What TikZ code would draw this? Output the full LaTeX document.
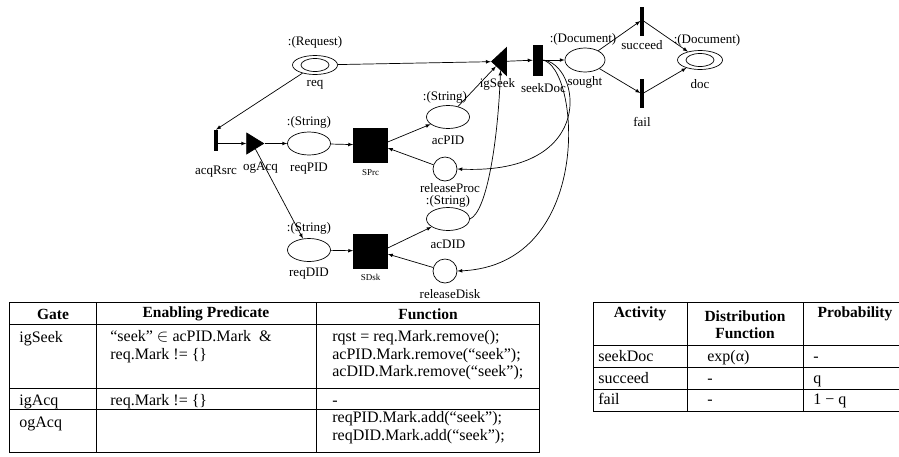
\documentclass[tikz,border=0pt]{standalone}
\usepackage{fontspec}
\setmainfont{Liberation Serif}
\usetikzlibrary{shapes.geometric}

\begin{document}
\begin{tikzpicture}[x=1pt,y=-1pt,line width=0.7pt,
    every node/.style={font=\fontsize{13}{17.5}\selectfont},
    every label/.style={inner sep=1pt},
    place/.style={draw, ellipse, inner sep=0pt, minimum width=43pt, minimum height=23pt},
    extplace/.style={place, minimum width=45pt, minimum height=19pt,
        path picture={\draw (path picture bounding box.center) ellipse (14pt and 6.5pt);}},
    token/.style={draw, circle, inner sep=0pt, minimum size=24pt},
    instbar/.style={draw, fill=black, inner sep=0pt, minimum width=2.5pt, minimum height=28pt},
    timedbar/.style={instbar, minimum width=9pt, minimum height=30pt},
    subnet/.style={draw, fill=black, inner sep=0pt, minimum size=34pt},
    outgate/.style={draw, fill=black, isosceles triangle, isosceles triangle stretches,
        inner sep=0pt, minimum width=21pt, minimum height=17pt},
    ingate/.style={outgate, shape border rotate=180, minimum width=28pt, minimum height=15pt},
    arc/.style={-latex},
    small/.style={font=\fontsize{9}{10}\selectfont},
    grid/.style={line width=1pt},
    head/.style={font=\fontsize{15.5}{17.5}\selectfont\bfseries, inner sep=0pt},
    cell/.style={anchor=north west, align=left, inner sep=0pt,
        font=\fontsize{16}{17.5}\selectfont, execute at begin node=\strut}]
    \useasboundingbox (0,0) rectangle (899,456);

    % places and activities of the net
    \node[extplace, label={[label distance=6pt]above:{:(Request)}}, label={[label distance=4pt]below:req}] (Req) at (315,65) {};
    \node[instbar, minimum height=20pt, label={[label distance=14pt]below:acqRsrc}] (AcqRsrc) at (216,140) {};
    \node[outgate, label={[label distance=10pt, xshift=8pt]below:ogAcq}] (OgAcq) at (252.5,143.5) {};
    \node[place, label={[label distance=2pt]above:{:(String)}}, label={[label distance=6pt]below:reqPID}] (ReqPID) at (309,143.5) {};
    \node[place, label={[label distance=3pt]above:{:(String)}}, label={[label distance=5pt]below:reqDID}] (ReqDID) at (309,250) {};
    \node[subnet, label={[label distance=6pt, small]below:SPrc}] (SPrc) at (370.5,145) {};
    \node[subnet, label={[label distance=5pt, small]below:SDsk}] (SDsk) at (370.5,251) {};
    \node[place, label={[label distance=0pt, xshift=-3pt]above:{:(String)}}, label={[label distance=6pt]below:acPID}] (AcPID) at (448,117) {};
    \node[token, label={[label distance=0.5pt, xshift=5pt]below:releaseProc}] (ReleaseProc) at (445,169) {};
    \node[place, label={[label distance=-1pt]above:{:(String)}}, label={[label distance=8pt]below:acDID}] (AcDID) at (448,219) {};
    \node[token, label={[label distance=5pt, xshift=5pt]below:releaseDisk}] (ReleaseDisk) at (445,271) {};
    \node[ingate, label={[label distance=7pt, xshift=-3pt]below:igSeek}] (IgSeek) at (500.5,61.5) {};
    \node[timedbar, label={[label distance=7pt, xshift=6pt]below:seekDoc}] (SeekDoc) at (537.5,60) {};
    \node[place, minimum width=40pt, minimum height=24pt, label={[label distance=1pt, xshift=-2pt]above:{:(Document)}}, label={[label distance=3pt]below:sought}] (Sought) at (585,60) {};
    \node[instbar, label={[label distance=4pt]below:succeed}] (Succeed) at (642,21) {};
    \node[instbar, label={[label distance=9pt]below:fail}] (Fail) at (642,93) {};
    \node[extplace, label={[label distance=3pt, xshift=7pt]above:{:(Document)}}, label={[label distance=8pt]below:doc}] (Doc) at (700,60) {};

    % arcs
    \draw[arc] (Req) -- (AcqRsrc.north);
    \draw[arc] (AcqRsrc.east |- OgAcq.west) -- (OgAcq.west);
    \draw[arc] (OgAcq.apex) -- (ReqPID);
    \draw[arc] (OgAcq) -- (ReqDID);
    \draw[arc] (ReqPID) -- (SPrc);
    \draw[arc] (ReqDID) -- (SDsk);
    \draw[arc] (SPrc.10) -- (AcPID);
    \draw[arc] (ReleaseProc) -- (SPrc.-10);
    \draw[arc] (SDsk.10) -- (AcDID);
    \draw[arc] (ReleaseDisk) -- (SDsk.-10);
    \draw[arc] (Req) -- (IgSeek);
    \draw[arc] (AcPID) -- (IgSeek);
    \draw[arc] (AcDID.east) .. controls (487,212) and (498,140) .. (IgSeek.south);
    \draw[arc] (IgSeek) -- (SeekDoc);
    \draw[arc] (SeekDoc) -- (Sought);
    \draw[arc] (SeekDoc.east) .. controls (580,62) and (600,175) .. (ReleaseProc.east);
    \draw[arc] (SeekDoc.east) .. controls (580,66) and (595,265) .. (ReleaseDisk.east);
    \draw[arc] (Sought) -- (Succeed.west);
    \draw[arc] (Sought) -- (Fail.west);
    \draw[arc] (Succeed.east) -- (Doc);
    \draw[arc] (Fail.east) -- (Doc);

    % gate table
    \coordinate (GateTL) at (9,302);
    \coordinate (GateBR) at (539,452);
    \draw[grid] (GateTL) rectangle (GateBR);
    \draw[grid] (96,302) -- (96,452);% Gate | Predicate
    \draw[grid] (316,302) -- (316,452);% Predicate | Function
    \draw[grid] (9,324) -- (539,324);
    \draw[grid] (9,388) -- (539,388);
    \draw[grid] (9,409) -- (539,409);
    \node[head] (GateHead) at (53,314) {Gate};
    \node[head] (PredHead) at (206,314) {Enabling Predicate};
    \node[head] (FuncHead) at (428,314) {Function};
    \node[cell] (GateSeek) at (19,330.25) {igSeek};
    \node[cell] (PredSeek) at (110,330.25) {“seek” $\in$ acPID.Mark~~\&\\req.Mark != \{\}};
    \node[cell] (FuncSeek) at (332,330.25) {rqst = req.Mark.remove();\\acPID.Mark.remove(“seek”);\\acDID.Mark.remove(“seek”);};
    \node[cell] (GateAcq) at (19,393.25) {igAcq};
    \node[cell] (PredAcq) at (110,393.25) {req.Mark != \{\}};
    \node[cell] (FuncAcq) at (332,393.25) {-};
    \node[cell] (GateOg) at (19,415.25) {ogAcq};
    \node[cell] (FuncOg) at (332,411.25) {reqPID.Mark.add(“seek”);\\reqDID.Mark.add(“seek”);};

    % activity table
    \coordinate (ActTL) at (593,302);
    \coordinate (ActBL) at (593,411);
    \draw[grid] (ActTL) -- (899,302);
    \draw[grid] (593,345) -- (899,345);
    \draw[grid] (593,367) -- (899,367);
    \draw[grid] (593,389) -- (899,389);
    \draw[grid] (ActBL) -- (899,411);
    \draw[grid] (ActTL) -- (ActBL);
    \draw[grid] (687,302) -- (687,411);
    \draw[grid] (803,302) -- (803,411);
    \node[head] (ActHead) at (640,314) {Activity};
    \node[head, align=center] (DistHead) at (745,324.5) {Distribution\\Function};
    \node[head] (ProbHead) at (855,314) {Probability};
    \node[cell] (ActSeek) at (598,349.25) {seekDoc};
    \node[cell] (DistSeek) at (707,349.25) {exp(α)};
    \node[cell] (ProbSeek) at (813,349.25) {-};
    \node[cell] (ActSucc) at (598,370.75) {succeed};
    \node[cell] (DistSucc) at (707,370.75) {-};
    \node[cell] (ProbSucc) at (813,370.75) {q};
    \node[cell] (ActFail) at (598,392.25) {fail};
    \node[cell] (DistFail) at (707,392.25) {-};
    \node[cell] (ProbFail) at (813,392.25) {1 − q};
\end{tikzpicture}
\end{document}
